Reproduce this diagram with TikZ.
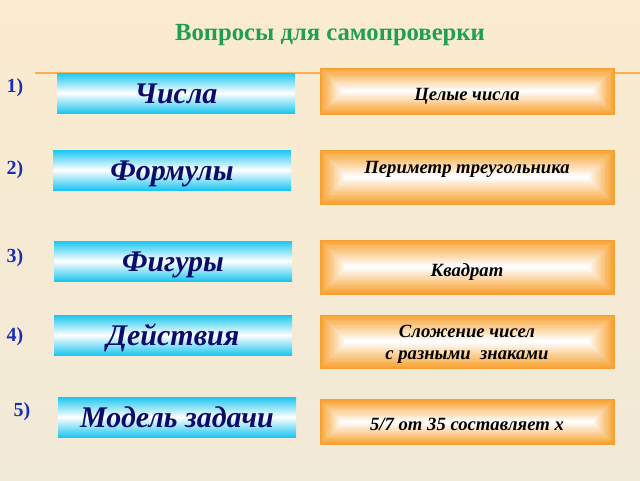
\documentclass[tikz,border=0pt]{standalone}
\usepackage{fontspec}
\setmainfont{Liberation Serif}
\definecolor{bgtop}{HTML}{FBEBCF}
\definecolor{bgbot}{HTML}{F1EAD8}
\definecolor{titlegreen}{HTML}{1FA050}
\definecolor{numblue}{HTML}{1E2EB4}
\definecolor{boxcyan}{HTML}{1CC6F0}
\definecolor{boxorange}{HTML}{F8A232}
\definecolor{wordnavy}{HTML}{0C0C6A}
\tikzset{
  topic/.style={minimum width=178.5pt, minimum height=30pt, inner sep=0pt,
    top color=boxcyan, bottom color=boxcyan, middle color=white,
    text height=19pt, text depth=3pt,
    text=wordnavy, font=\fontsize{22.5}{24}\selectfont\bfseries\itshape},
  answer/.style={minimum width=220.5pt, minimum height=#1pt, inner sep=0pt,
    draw=boxorange!90!brown, fill=boxorange,
    font=\fontsize{14}{17}\selectfont\bfseries\itshape,
    path picture={
      \foreach \k in {1,...,20} {
        \pgfmathsetmacro\gap{#1*\k/42}
        \pgfmathtruncatemacro\pct{100-5*\k}
        \fill[boxorange!\pct!white]
        ([shift={(\gap pt,-\gap pt)}]path picture bounding box.north west) rectangle
        ([shift={(-\gap pt,\gap pt)}]path picture bounding box.south east);
      }}},
  num/.style={text=numblue, font=\fontsize{15}{17}\selectfont\bfseries}
}
\begin{document}
\begin{tikzpicture}[x=0.75pt, y=-0.75pt]
	\shade[top color=bgtop, bottom color=bgbot] (0,0) rectangle (640,480);
	\useasboundingbox (0,0) rectangle (640,480);
	\node[text=titlegreen, font=\fontsize{18.5}{20}\selectfont\bfseries] (title) at (330,35) {Вопросы для самопроверки};
	\coordinate (lineL) at (35,73);
	\coordinate (lineR) at (640,73);
	\draw[boxorange!85!white, line width=1pt] (lineL) -- (lineR);
	% topics on the left
	\node[topic] (t1) at (176,93) {Числа};
	\node[topic] (t2) at (172,170) {Формулы};
	\node[topic] (t3) at (173,261) {Фигуры};
	\node[topic] (t4) at (173,335) {Действия};
	\node[topic] (t5) at (177,417) {Модель задачи};
	% answers on the right
	\node[answer=34.5, text height=15.5pt, text depth=2pt] (a1) at (467,91) {Целые числа};
	\node[answer=40.5, text height=8pt, text depth=14pt] (a2) at (467,177) {Периметр треугольника};
	\node[answer=40.5, text height=15.5pt, text depth=2pt] (a3) at (467,267) {Квадрат};
	\node[answer=40] (a4) at (467,341.5) {\raisebox{-5.5pt}[0pt][0pt]{\begin{tabular}{@{}c@{}}Сложение чисел\\с разными\ \ знаками\end{tabular}}};
	\node[answer=33.5, text height=14pt, text depth=2pt] (a5) at (467,422) {5/7 от 35 составляет х};
	% numbers
	\foreach \n/\x/\y in {1/15/88,2/15/170,3/15/258,4/15/337,5/22/412}
	\node[num] (n\n) at (\x,\y) {\n)};
\end{tikzpicture}
\end{document}
